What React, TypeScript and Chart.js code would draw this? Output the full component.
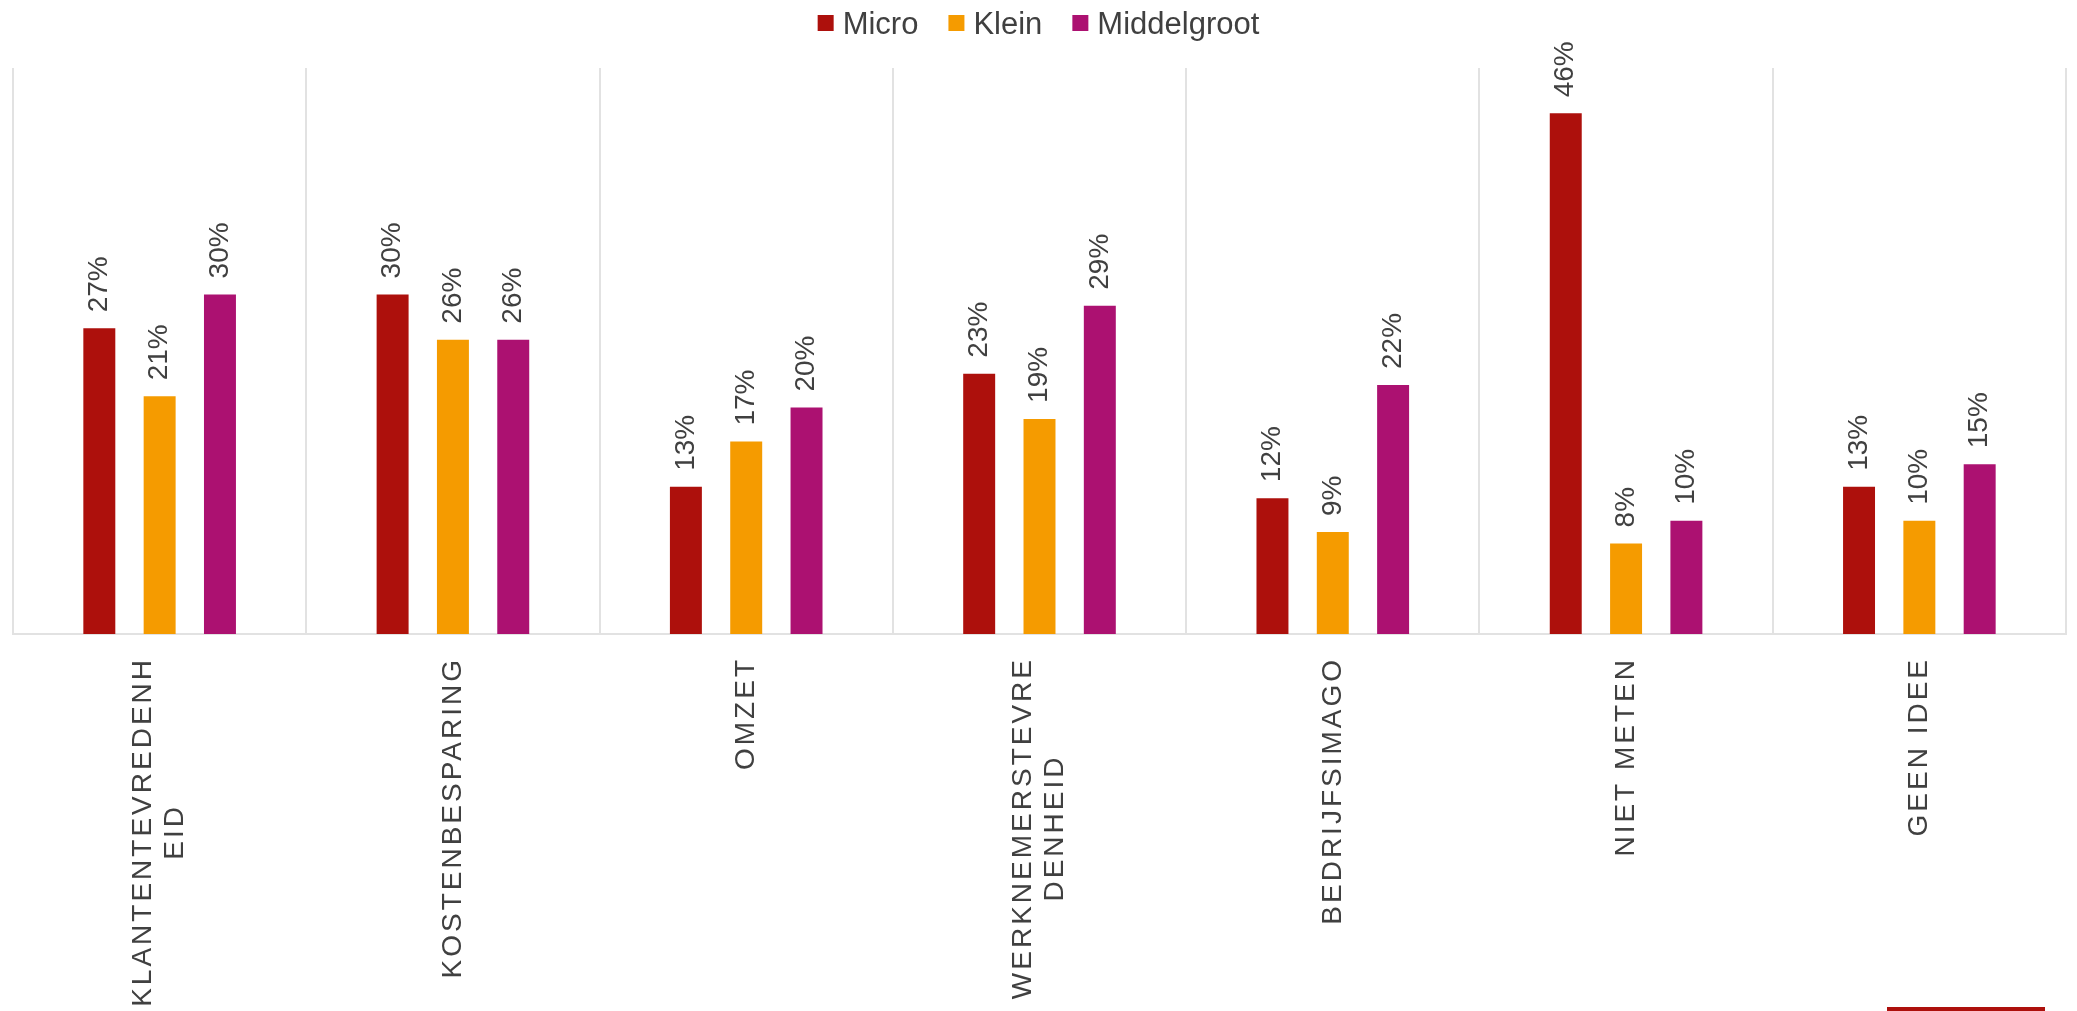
import { useEffect, useRef } from "react";
import { Chart, registerables } from "chart.js";

Chart.register(...registerables);

// ---- data ----
const categoryLines: string[][] = [
  ["KLANTENTEVREDENH", "EID"],
  ["KOSTENBESPARING"],
  ["OMZET"],
  ["WERKNEMERSTEVRE", "DENHEID"],
  ["BEDRIJFSIMAGO"],
  ["NIET METEN"],
  ["GEEN IDEE"],
];
const seriesNames = ["Micro", "Klein", "Middelgroot"];
const microValues = [27, 30, 13, 23, 12, 46, 13];
const kleinValues = [21, 26, 17, 19, 9, 8, 10];
const middelgrootValues = [30, 26, 20, 29, 22, 10, 15];
const seriesColors = ["#AD100C", "#F59B00", "#AC1171"];
const yMin = 0;
const yMax = 50;

const FONT = '"Liberation Sans", Arial, sans-serif';
const TEXT = "#404040";
const W = 2077;
const H = 1011;

const labelsPlugin = {
  id: "customLabels",
  afterDatasetsDraw(chart: any) {
    const ctx = chart.ctx as CanvasRenderingContext2D;
    ctx.save();
    ctx.fillStyle = TEXT;
    ctx.font = `28px ${FONT}`;
    ctx.textAlign = "left";
    ctx.textBaseline = "middle";
    chart.data.datasets.forEach((ds: any, di: number) => {
      const meta = chart.getDatasetMeta(di);
      meta.data.forEach((bar: any, i: number) => {
        ctx.save();
        ctx.translate(bar.x, bar.y - 16);
        ctx.rotate(-Math.PI / 2);
        ctx.fillText(`${ds.data[i]}%`, 0, 0);
        ctx.restore();
      });
    });
    ctx.restore();
  },
  afterDraw(chart: any) {
    const ctx = chart.ctx as CanvasRenderingContext2D;
    const xScale = chart.scales.x;
    const bottom = chart.chartArea.bottom;
    // category labels
    ctx.save();
    ctx.fillStyle = TEXT;
    ctx.font = `28px ${FONT}`;
    (ctx as any).letterSpacing = "3px";
    ctx.textAlign = "center";
    ctx.textBaseline = "middle";
    categoryLines.forEach((lines, i) => {
      const cx = xScale.getPixelForValue(i);
      const maxW = Math.max(...lines.map((l) => ctx.measureText(l).width));
      const cy = bottom + 23 + maxW / 2;
      const lh = 32;
      lines.forEach((line, j) => {
        const lx = cx + (j - (lines.length - 1) / 2) * lh;
        ctx.save();
        ctx.translate(lx, cy);
        ctx.rotate(-Math.PI / 2);
        ctx.fillText(line, 0, 0);
        ctx.restore();
      });
    });
    ctx.restore();

    // legend
    ctx.save();
    ctx.font = `31px ${FONT}`;
    ctx.textBaseline = "alphabetic";
    ctx.textAlign = "left";
    const box = 16;
    const gapText = 9;
    const gapItem = 30;
    const widths = seriesNames.map((n) => ctx.measureText(n).width);
    const total =
      widths.reduce((a, b) => a + b, 0) +
      seriesNames.length * (box + gapText) +
      (seriesNames.length - 1) * gapItem;
    let x = W / 2 - total / 2;
    seriesNames.forEach((n, i) => {
      ctx.fillStyle = seriesColors[i];
      ctx.fillRect(x, 15, box, box);
      x += box + gapText;
      ctx.fillStyle = TEXT;
      ctx.fillText(n, x, 33.5);
      x += widths[i] + gapItem;
    });
    ctx.restore();

    // decorative line bottom right
    ctx.save();
    ctx.fillStyle = "#AD100C";
    ctx.fillRect(1887, 1007, 158, 4);
    ctx.restore();
  },
};

export default function App() {
  const ref = useRef<HTMLCanvasElement | null>(null);
  useEffect(() => {
    if (!ref.current) return;
    const allValues = [microValues, kleinValues, middelgrootValues];
    const chart = new Chart(ref.current, {
      type: "bar",
      data: {
        labels: categoryLines.map((l) => l.join("")),
        datasets: seriesNames.map((name, i) => ({
          label: name,
          data: allValues[i],
          backgroundColor: seriesColors[i],
          borderWidth: 0,
          categoryPercentage: 0.617,
          barPercentage: 0.53,
        })),
      },
      options: {
        responsive: false,
        animation: false,
        devicePixelRatio: 1,
        layout: { padding: { left: 13, right: 11, top: 68, bottom: 0 } },
        plugins: {
          legend: { display: false },
          tooltip: { enabled: false },
        },
        scales: {
          x: {
            type: "category",
            offset: true,
            grid: {
              display: true,
              offset: true,
              color: "#E2E2E2",
              lineWidth: 2,
              drawTicks: false,
            },
            border: { display: true, color: "#E2E2E2", width: 2 },
            ticks: { display: false },
            afterFit: (scale: any) => {
              scale.height = 377;
            },
          },
          y: {
            display: false,
            min: yMin,
            max: yMax,
          },
        },
      },
      plugins: [labelsPlugin],
    } as any);
    return () => chart.destroy();
  }, []);
  return (
    <div style={{ position: "fixed", left: 0, top: 0, width: W, height: H, background: "#fff" }}>
      <canvas ref={ref} width={W} height={H} style={{ display: "block", width: W, height: H }} />
    </div>
  );
}
